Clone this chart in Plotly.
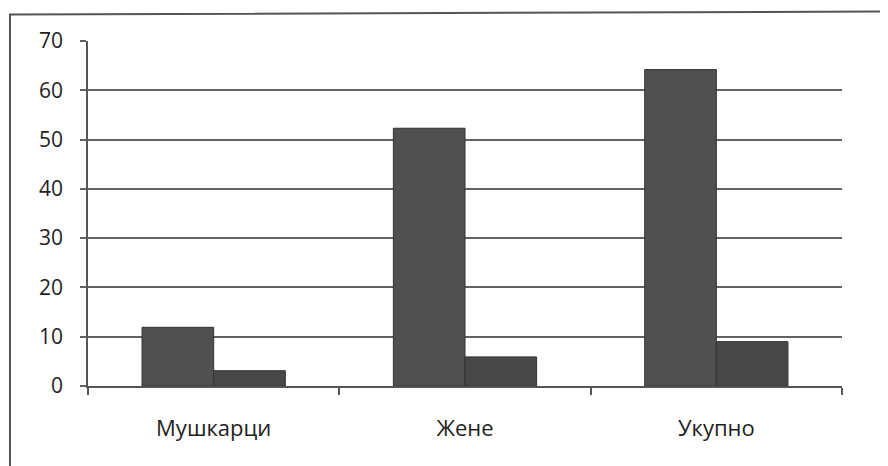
import plotly.graph_objects as go

categories = ["Мушкарци", "Жене", "Укупно"]
series_a = [11.9, 52.3, 64.2]
series_b = [3.1, 5.9, 9.0]
y_ticks = [0, 10, 20, 30, 40, 50, 60, 70]

FONT = "Open Sans, Noto Sans, DejaVu Sans, sans-serif"

fig = go.Figure()
fig.add_trace(go.Bar(x=categories, y=series_a, name="a",
                     marker=dict(color="#505050", line=dict(color="#333333", width=1))))
fig.add_trace(go.Bar(x=categories, y=series_b, name="b",
                     marker=dict(color="#484848", line=dict(color="#333333", width=1))))

# page body has an 8px offset in the browser
OFF = 8
W, H = 888, 466
L, R, T, B = 88 - OFF, 46 + OFF, 40.5 - OFF, 80 + OFF
pw, ph = W - L - R, H - T - B

def px(x):
    return (x - OFF - L) / pw

def py(y):
    return (H - B - (y - OFF)) / ph

fig.update_layout(
    width=W, height=H,
    margin=dict(l=L, r=R, t=T, b=B),
    barmode="group", bargap=0.43, bargroupgap=0,
    showlegend=False,
    paper_bgcolor="#ffffff", plot_bgcolor="#ffffff",
    font=dict(family=FONT, color="#1e1e1e"),
    xaxis=dict(
        showgrid=False, showline=True, linecolor="#555555", linewidth=1.5,
        ticks="outside", tickson="boundaries", ticklen=7, tickcolor="#555555", tickwidth=1.5,
        tickfont=dict(size=22, family=FONT, color="#1e1e1e"),
        ticklabelstandoff=22,
    ),
    yaxis=dict(
        range=[0, 70], tickvals=y_ticks, showgrid=True, gridcolor="#626262", gridwidth=1.5,
        showline=True, linecolor="#555555", linewidth=1.5,
        ticks="outside", ticklen=6, tickcolor="#626262", tickwidth=1.5,
        tickfont=dict(size=21, family=FONT, color="#1e1e1e"),
        ticklabelstandoff=13, zeroline=False,
    ),
    shapes=[
        dict(type="path", xref="paper", yref="paper",
             path=f"M {px(10)} {py(480)} L {px(10)} {py(14)} L {px(900)} {py(11)}",
             line=dict(color="#555555", width=2)),
    ],
)

fig.write_html("out.html")
